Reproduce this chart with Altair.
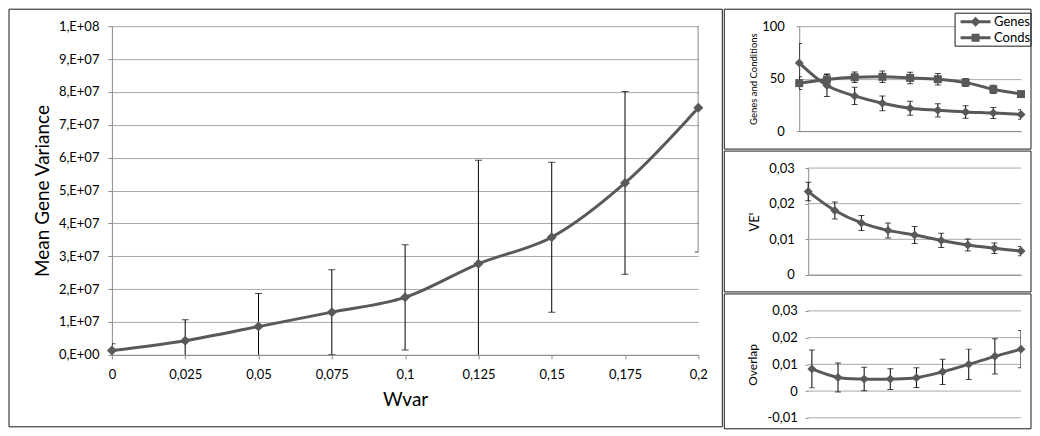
import altair as alt
import pandas as pd

# ---------------- data ----------------
wvar = [0, 0.025, 0.05, 0.075, 0.1, 0.125, 0.15, 0.175, 0.2]
mgv_mean = [1.3e6, 4.3e6, 8.6e6, 1.30e7, 1.75e7, 2.77e7, 3.58e7, 5.23e7, 7.52e7]
mgv_err = [2.1e6, 6.4e6, 1.01e7, 1.29e7, 1.60e7, 3.15e7, 2.28e7, 2.78e7, 4.39e7]
mgv_ticks = [0, 1e7, 2e7, 3e7, 4e7, 5e7, 6e7, 7e7, 8e7, 9e7, 1e8]

step = [0, 1, 2, 3, 4, 5, 6, 7, 8]
series_names = ["Genes", "Conds"]
genes_mean = [65.0, 43.5, 33.5, 26.5, 21.8, 19.8, 18.2, 17.2, 15.8]
genes_err = [18.5, 10.5, 8.2, 7.0, 6.6, 6.3, 5.9, 5.2, 4.6]
conds_mean = [45.7, 49.2, 51.3, 51.7, 50.7, 49.5, 46.3, 39.8, 35.3]
conds_err = [6.0, 5.2, 5.0, 5.5, 5.5, 5.5, 3.8, 3.9, 2.5]
gc_ticks = [0, 50, 100]

ve_mean = [0.0234, 0.0181, 0.0146, 0.0125, 0.0112, 0.0097, 0.0084, 0.0075, 0.0067]
ve_err = [0.0026, 0.0024, 0.0021, 0.0021, 0.0024, 0.0020, 0.0017, 0.0015, 0.0013]
ve_ticks = [0, 0.01, 0.02, 0.03]

ov_mean = [0.0083, 0.0051, 0.0045, 0.0045, 0.0050, 0.0072, 0.0100, 0.0130, 0.0157]
ov_err = [0.0071, 0.0054, 0.0044, 0.0039, 0.0037, 0.0047, 0.0057, 0.0066, 0.0070]
ov_ticks = [-0.01, 0, 0.01, 0.02, 0.03]

# ---------------- styles ----------------
FONT = "Lato"
GRAY = "#595959"
GRID = "#a8a8a8"
AXC = "#8a8a8a"
DEC = "replace(replace(format(datum.value, '~g'), '.', ','), '\u2212', '-')"

# legend glyphs: line segment + marker (unit = sqrt(symbolSize)/2 = 5px)
LEG_DIAMOND = "M-3,-0.3H3V0.3H-3Z M0,-1L1,0L0,1L-1,0Z"
LEG_SQUARE = "M-3,-0.3H3V0.3H-3Z M-0.8,-0.8H0.8V0.8H-0.8Z"


def with_bounds(df, m, e):
    d = df.copy()
    d["lo"] = d[m] - d[e]
    d["hi"] = d[m] + d[e]
    return d


def frame(x0, x1, y0, y1, fill="transparent"):
    return alt.Chart(alt.Data(values=[{}])).mark_rect(
        fill=fill, stroke="#1a1a1a", strokeWidth=1
    ).encode(x=alt.value(x0), x2=alt.value(x1), y=alt.value(y0), y2=alt.value(y1))


def errorbars(df, xs, ys, xax, yax, cap, clip=True):
    b = alt.Chart(df)
    x = alt.X("x:Q", scale=xs, axis=xax)
    rule = b.mark_rule(color="black", strokeWidth=1, clip=clip).encode(
        x=x, y=alt.Y("lo:Q", scale=ys, axis=yax), y2="hi:Q")
    lo = b.mark_tick(color="black", orient="horizontal", size=cap, thickness=1, clip=clip).encode(
        x=x, y=alt.Y("lo:Q", scale=ys, axis=yax))
    hi = b.mark_tick(color="black", orient="horizontal", size=cap, thickness=1, clip=clip).encode(
        x=x, y=alt.Y("hi:Q", scale=ys, axis=yax))
    return [rule, lo, hi]


# ---------------- main panel ----------------
main_df = with_bounds(pd.DataFrame({"x": wvar, "m": mgv_mean, "e": mgv_err}), "m", "e")
mxs = alt.Scale(domain=[0, 0.2], nice=False, zero=False)
mys = alt.Scale(domain=[0, 1e8], nice=False)
mxax = alt.Axis(
    values=wvar, labelExpr=DEC, title="Wvar", grid=False, domainColor=AXC, tickColor=AXC,
    tickSize=4, labelPadding=10, labelFontSize=13, labelFont=FONT, labelColor="#000",
    titleFont=FONT, titleColor="#000", titleFontSize=19, titleFontWeight="normal",
    titleBaseline="alphabetic", titleY=51, labelFlush=False)
myax = alt.Axis(
    values=mgv_ticks,
    labelExpr="datum.value == 0 ? '0,E+00' : (datum.value >= 1e8 ? '1,E+08' : round(datum.value / 1e7) + ',E+07')",
    title="Mean Gene Variance", grid=True, gridColor=GRID, domainColor=AXC, tickColor=AXC,
    tickSize=4, labelPadding=9, labelFontSize=13, labelFont=FONT, labelColor="#000",
    titleFont=FONT, titleColor="#000", titleFontSize=19, titleFontWeight="normal",
    titleBaseline="alphabetic", titleX=-63)

main_line = alt.Chart(main_df).mark_line(color=GRAY, strokeWidth=3, interpolate="catmull-rom").encode(
    x=alt.X("x:Q", scale=mxs, axis=mxax), y=alt.Y("m:Q", scale=mys, axis=myax))
main_pts = alt.Chart(main_df).mark_point(shape="diamond", filled=True, size=100, color=GRAY, opacity=1).encode(
    x=alt.X("x:Q", scale=mxs, axis=mxax), y=alt.Y("m:Q", scale=mys, axis=myax))

main = alt.layer(
    main_line, *errorbars(main_df, mxs, mys, mxax, myax, 7), main_pts, frame(-103, 611, -17, 401)
).properties(width=587, height=329)


# ---------------- small panels ----------------
def small_axis(ticks, title, title_x, title_size, label_pad, domain=True, grid=True, offset=0):
    return alt.Axis(
        values=ticks, labelExpr=DEC, title=title, grid=grid, gridColor=GRID, domain=domain,
        domainColor=AXC, tickColor=AXC, tickSize=3, labelPadding=label_pad, labelFontSize=13,
        labelFont=FONT, labelColor="#000", titleFont=FONT, titleColor="#000",
        titleFontSize=title_size, titleFontWeight="normal",
        titleBaseline="alphabetic", titleX=title_x, offset=offset)


x_small = alt.Axis(labels=False, ticks=False, title=None, grid=False, domainColor=AXC)
x_small_nodomain = alt.Axis(labels=False, ticks=False, title=None, grid=False, domain=False)


def grid_rules(ticks, xs, ys, xax, yax, x_from, x_to):
    return alt.Chart(pd.DataFrame({"t": ticks})).mark_rule(color=GRID, strokeWidth=1).encode(
        y=alt.Y("t:Q", scale=ys, axis=yax),
        x=alt.X(datum=x_from, scale=xs, axis=xax),
        x2=alt.datum(x_to),
    )


# top: genes and conditions
top_df = pd.DataFrame({
    "x": step + step,
    "series": [series_names[0]] * len(step) + [series_names[1]] * len(step),
    "m": genes_mean + conds_mean,
    "e": genes_err + conds_err,
})
top_df = with_bounds(top_df, "m", "e")
txs = alt.Scale(domain=[0, 8], nice=False, zero=False)
tys = alt.Scale(domain=[0, 100], nice=False)
tyax = small_axis(gc_ticks, "Genes and Conditions", -43, 9.5, 12)
top_line = alt.Chart(top_df).mark_line(color=GRAY, strokeWidth=3, interpolate="catmull-rom").encode(
    x=alt.X("x:Q", scale=txs, axis=x_small),
    y=alt.Y("m:Q", scale=tys, axis=tyax),
    detail="series:N",
)


def series_points(name, shape, size, path, legend_y):
    d = top_df[top_df["series"] == name]
    return alt.Chart(d).mark_point(filled=True, shape=shape, size=size, opacity=1).encode(
        x=alt.X("x:Q", scale=txs, axis=x_small),
        y=alt.Y("m:Q", scale=tys, axis=tyax),
        color=alt.Color("series:N", scale=alt.Scale(domain=[name], range=[GRAY]),
                        legend=alt.Legend(
                            title=None, orient="none", legendX=170, legendY=legend_y,
                            padding=0, symbolType=path, symbolSize=100, symbolStrokeWidth=0,
                            symbolOpacity=1, symbolFillColor=GRAY, labelOffset=12,
                            labelFont=FONT, labelFontSize=13, labelColor="#000")),
    )


genes_pts = series_points("Genes", "diamond", 80, LEG_DIAMOND, -11)
conds_pts = series_points("Conds", "square", 64, LEG_SQUARE, 5)

top = alt.layer(
    top_line, *errorbars(top_df, txs, tys, x_small, tyax, 6), genes_pts, conds_pts,
    frame(156, 232, -13, 20, fill="white"), frame(-75, 232, -17, 123),
).resolve_scale(color="independent").resolve_legend(color="independent").properties(width=222, height=105)

# middle: VE (plot starts 9px right of the column origin)
ve_df = with_bounds(pd.DataFrame({"x": step, "m": ve_mean, "e": ve_err}), "m", "e")
mxs_small = alt.Scale(domain=[0, 8], nice=False, zero=False, range=[9, 222])
vys = alt.Scale(domain=[0, 0.03], nice=False)
vyax = small_axis(ve_ticks, "VE\u1d57", -50, 13, 11, grid=False, offset=-9)
ve_grid = grid_rules(ve_ticks, mxs_small, vys, x_small, vyax, 0, 8)
ve_line = alt.Chart(ve_df).mark_line(color=GRAY, strokeWidth=3, interpolate="catmull-rom").encode(
    x=alt.X("x:Q", scale=mxs_small, axis=x_small), y=alt.Y("m:Q", scale=vys, axis=vyax))
ve_pts = alt.Chart(ve_df).mark_point(shape="diamond", filled=True, size=80, color=GRAY, opacity=1).encode(
    x=alt.X("x:Q", scale=mxs_small, axis=x_small), y=alt.Y("m:Q", scale=vys, axis=vyax))
mid = alt.layer(
    ve_grid, ve_line, *errorbars(ve_df, mxs_small, vys, x_small, vyax, 6), ve_pts,
    frame(-75, 232, -17, 124)
).properties(width=222, height=107)

# bottom: overlap
ov_df = with_bounds(pd.DataFrame({"x": step, "m": ov_mean, "e": ov_err}), "m", "e")
bxs = alt.Scale(domain=[-0.14, 8], nice=False, zero=False, range=[9, 222])
oys = alt.Scale(domain=[-0.01, 0.03], nice=False)
oyax = small_axis(ov_ticks, "Overlap", -52, 12, 8, domain=False, grid=False, offset=-9)
ov_grid = grid_rules(ov_ticks, bxs, oys, x_small_nodomain, oyax, -0.14, 8)
ov_line = alt.Chart(ov_df).mark_line(color=GRAY, strokeWidth=3, interpolate="catmull-rom").encode(
    x=alt.X("x:Q", scale=bxs, axis=x_small_nodomain), y=alt.Y("m:Q", scale=oys, axis=oyax))
ov_pts = alt.Chart(ov_df).mark_point(shape="diamond", filled=True, size=80, color=GRAY, opacity=1).encode(
    x=alt.X("x:Q", scale=bxs, axis=x_small_nodomain), y=alt.Y("m:Q", scale=oys, axis=oyax))
bot = alt.layer(
    ov_grid, ov_line, *errorbars(ov_df, bxs, oys, x_small_nodomain, oyax, 6), ov_pts,
    frame(-75, 232, -17, 118)
).properties(width=222, height=107)

right = alt.vconcat(top, mid, bot, spacing=0)
chart = alt.hconcat(main, right, spacing=0).properties(
    padding=0, background="white"
).configure(font=FONT).configure_view(strokeWidth=0)

chart.save("out.html", embed_options={"renderer": "svg", "actions": False})
